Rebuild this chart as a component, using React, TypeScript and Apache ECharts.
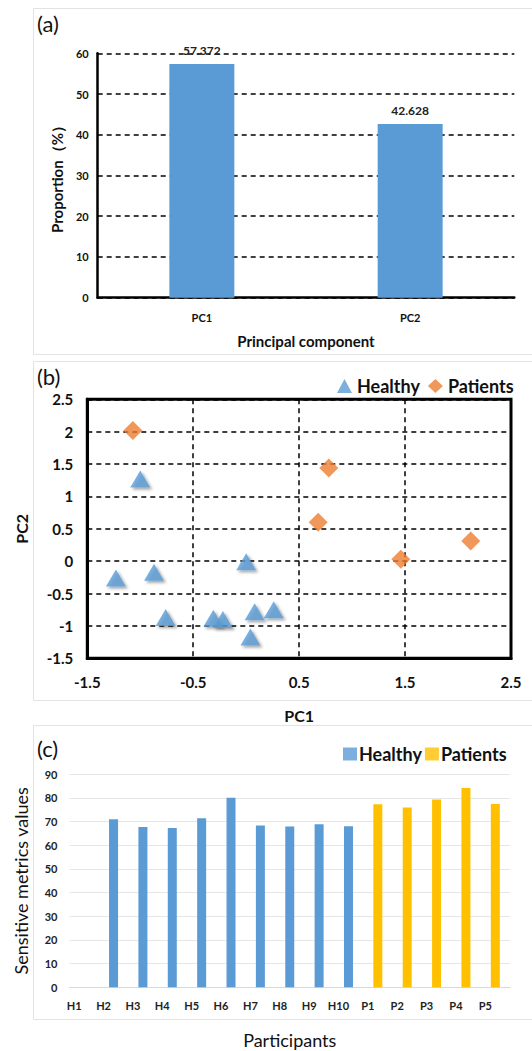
import React, { useEffect, useRef } from "react";
import * as echarts from "echarts";

const pcCategories = ["PC1", "PC2"];
const pcProportions = [57.372, 42.628];

const healthyPoints = [
  [-1.0, 1.27],
  [-1.23, -0.26],
  [-0.87, -0.17],
  [-0.76, -0.87],
  [-0.31, -0.88],
  [-0.22, -0.9],
  [0.0, -0.01],
  [0.08, -0.78],
  [0.26, -0.75],
  [0.04, -1.17],
];
const patientPoints = [
  [-1.07, 2.02],
  [0.78, 1.44],
  [0.68, 0.6],
  [1.46, 0.03],
  [2.12, 0.31],
];

const participants = ["H1", "H2", "H3", "H4", "H5", "H6", "H7", "H8", "H9", "H10", "P1", "P2", "P3", "P4", "P5"];
const healthyValues = [0, 71.0, 67.7, 67.3, 71.4, 80.1, 68.4, 67.9, 68.9, 68.1, "-", "-", "-", "-", "-"];
const patientValues = ["-", "-", "-", "-", "-", "-", "-", "-", "-", "-", 77.3, 76.0, 79.4, 84.2, 77.4];

const FONT = "Lato, 'Noto Sans', sans-serif";
const BLUE = "#5B9BD5";
const ORANGE = "#ED7D31";
const YELLOW = "#FFC000";

export default function App() {
  const ref = useRef<HTMLDivElement>(null);
  useEffect(() => {
    if (!ref.current) return;
    const chart = echarts.init(ref.current, null, { renderer: "svg" });
    const dashed = { type: [5, 4] as any, color: "#000", width: 1.5 };
    const frameLine = { show: true, onZero: false, lineStyle: { color: "#000", width: 3 } };
    chart.setOption({
      animation: false,
      textStyle: { fontFamily: FONT },
      graphic: [
        { type: "rect", shape: { x: 33.5, y: 8.5, width: 520, height: 346 }, style: { fill: "none", stroke: "#e3e3e3", lineWidth: 1 } },
        { type: "rect", shape: { x: 33.5, y: 361.5, width: 520, height: 339 }, style: { fill: "none", stroke: "#e3e3e3", lineWidth: 1 } },
        { type: "rect", shape: { x: 33.5, y: 725.5, width: 520, height: 294 }, style: { fill: "none", stroke: "#e3e3e3", lineWidth: 1 } },
        { type: "text", x: 37, y: 12, style: { text: "(a)", fontSize: 22, fontFamily: FONT, fill: "#111" } },
        { type: "text", x: 37, y: 365, style: { text: "(b)", fontSize: 22, fontFamily: FONT, fill: "#111" } },
        { type: "text", x: 37, y: 737, style: { text: "(c)", fontSize: 22, fontFamily: FONT, fill: "#111" } },
      ],
      legend: [
        {
          left: 332,
          top: 372,
          itemWidth: 15,
          itemHeight: 14,
          itemGap: 8,
          textStyle: { fontSize: 18, fontWeight: "bold", color: "#111", fontFamily: FONT },
          data: [
            { name: "Healthy", icon: "triangle", itemStyle: { color: BLUE } },
            { name: "Patients", icon: "diamond", itemStyle: { color: ORANGE } },
          ],
          selectedMode: false,
        },
        {
          left: 338,
          top: 740,
          itemWidth: 14,
          itemHeight: 13,
          itemGap: 3,
          textStyle: { fontSize: 18, fontWeight: "bold", color: "#111", fontFamily: FONT, padding: [0, 0, 0, -3] },
          data: [
            { name: "Healthy", icon: "rect", itemStyle: { color: BLUE } },
            { name: "Patients", icon: "rect", itemStyle: { color: YELLOW } },
          ],
          selectedMode: false,
        },
      ],
      grid: [
        { left: 97.7, top: 53.3, width: 416.6, height: 244.4 },
        { left: 87.3, top: 399.3, width: 423.7, height: 259, show: true, borderColor: "#000", borderWidth: 3, backgroundColor: "transparent" },
        { left: 69.5, top: 774.3, width: 440.5, height: 213 },
      ],
      xAxis: [
        {
          gridIndex: 0,
          type: "category",
          data: pcCategories,
          axisLine: { lineStyle: { color: "#000", width: 2.5 } },
          axisTick: { show: false },
          axisLabel: { fontSize: 11, fontWeight: "bold", color: "#111", margin: 14, fontFamily: FONT },
          name: "Principal component",
          nameLocation: "middle",
          nameGap: 36,
          nameTextStyle: { fontSize: 15, fontWeight: "bold", color: "#111", fontFamily: FONT },
        },
        {
          gridIndex: 1,
          type: "value",
          min: -1.5,
          max: 2.5,
          interval: 1,
          axisLine: frameLine,
          axisTick: { show: false },
          splitLine: { show: true, lineStyle: dashed },
          axisLabel: { fontSize: 15, fontWeight: "bold", color: "#111", margin: 16, fontFamily: FONT },
          name: "PC1",
          nameLocation: "middle",
          nameGap: 49,
          nameTextStyle: { fontSize: 16, fontWeight: "bold", color: "#111", fontFamily: FONT },
        },
        {
          gridIndex: 2,
          type: "category",
          data: participants,
          axisLine: { lineStyle: { color: "#d9d9d9", width: 1 } },
          axisTick: { show: false },
          axisLabel: { fontSize: 11, fontWeight: "bold", color: "#222", margin: 13, padding: [0, 20, 0, 0], interval: 0, fontFamily: FONT },
          name: "Participants",
          nameLocation: "middle",
          nameGap: 44,
          nameTextStyle: { fontSize: 18, color: "#111", fontFamily: FONT },
        },
      ],
      yAxis: [
        {
          gridIndex: 0,
          type: "value",
          min: 0,
          max: 60,
          interval: 10,
          axisLine: { show: true, lineStyle: { color: "#000", width: 2.5 } },
          axisTick: { show: false },
          splitLine: { show: true, lineStyle: dashed },
          axisLabel: { fontSize: 11, fontWeight: "bold", color: "#111", margin: 9, fontFamily: FONT },
          name: "Proportion（%）",
          nameLocation: "middle",
          nameGap: 33,
          nameTextStyle: { fontSize: 15, fontWeight: "bold", color: "#111", fontFamily: FONT },
        },
        {
          gridIndex: 1,
          type: "value",
          min: -1.5,
          max: 2.5,
          interval: 0.5,
          axisLine: frameLine,
          axisTick: { show: false },
          splitLine: { show: true, lineStyle: dashed },
          axisLabel: { fontSize: 15, fontWeight: "bold", color: "#111", margin: 14, fontFamily: FONT },
          name: "PC2",
          nameLocation: "middle",
          nameGap: 58,
          nameTextStyle: { fontSize: 16, fontWeight: "bold", color: "#111", fontFamily: FONT },
        },
        {
          gridIndex: 2,
          type: "value",
          min: 0,
          max: 90,
          interval: 10,
          axisLine: { show: false },
          axisTick: { show: false },
          splitLine: { show: true, lineStyle: { color: "#e6e6e6", width: 1 } },
          axisLabel: { fontSize: 11, fontWeight: "bold", color: "#222", margin: 12, fontFamily: FONT },
          name: "Sensitive metrics values",
          nameLocation: "middle",
          nameGap: 40,
          nameTextStyle: { fontSize: 18, color: "#111", fontFamily: FONT },
        },
      ],
      series: [
        {
          type: "bar",
          name: "Proportion",
          xAxisIndex: 0,
          yAxisIndex: 0,
          data: pcProportions,
          barWidth: 65,
          itemStyle: { color: BLUE },
          label: {
            show: true,
            position: "top",
            distance: 8,
            fontSize: 12,
            fontWeight: "bold",
            color: "#222",
            fontFamily: FONT,
            formatter: (p: any) => p.value.toFixed(3),
          },
        },
        {
          type: "scatter",
          name: "Healthy",
          xAxisIndex: 1,
          yAxisIndex: 1,
          data: healthyPoints,
          symbol: "triangle",
          symbolSize: [20, 17],
          itemStyle: {
            color: BLUE,
            shadowBlur: 3,
            shadowColor: "rgba(0,0,0,0.45)",
            shadowOffsetX: 2,
            shadowOffsetY: 2,
          },
        },
        {
          type: "scatter",
          name: "Patients",
          xAxisIndex: 1,
          yAxisIndex: 1,
          data: patientPoints,
          symbol: "diamond",
          symbolSize: [19, 19],
          itemStyle: { color: ORANGE },
        },
        {
          type: "bar",
          name: "Healthy",
          xAxisIndex: 2,
          yAxisIndex: 2,
          data: healthyValues,
          barWidth: 9,
          barGap: "-100%",
          itemStyle: { color: BLUE },
        },
        {
          type: "bar",
          name: "Patients",
          xAxisIndex: 2,
          yAxisIndex: 2,
          data: patientValues,
          barWidth: 9,
          barGap: "-100%",
          itemStyle: { color: YELLOW },
        },
      ],
    });
    return () => chart.dispose();
  }, []);
  return (
    <div
      ref={ref}
      style={{ position: "absolute", left: 0, top: 0, width: 532, height: 1051, background: "#fff" }}
    />
  );
}
